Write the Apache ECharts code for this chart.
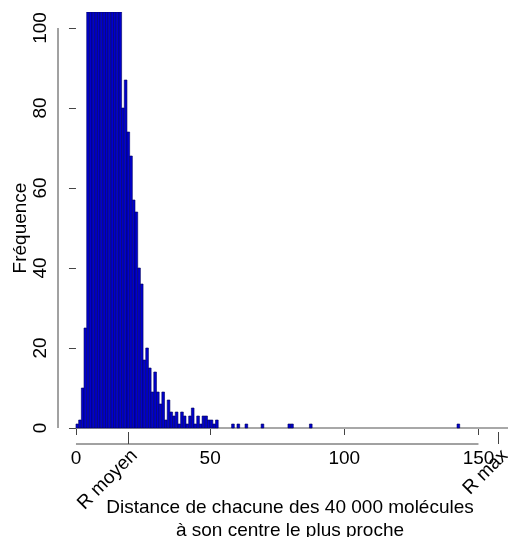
<!DOCTYPE html>
<html>
<head>
<meta charset="utf-8">
<script src="https://cdn.jsdelivr.net/npm/echarts@6/dist/echarts.min.js"></script>
<style>
html,body{margin:0;padding:0;background:#fff;}
#chart{width:508px;height:537px;}
</style>
</head>
<body>
<div id="chart"></div>
<script>
// Histogram of distances (bin width 1): lower edge of each non-empty bin and its frequency
const binWidth = 1;
const binLeft = [0,1,2,3,4,5,6,7,8,9,10,11,12,13,14,15,16,17,18,19,20,21,22,23,24,25,26,27,28,29,30,31,32,33,34,35,36,37,38,39,40,41,42,43,44,45,46,47,48,49,50,51,52,58,60,63,69,79,80,87,142];
const freq    = [1,2,10,25,420,1650,3300,4650,5400,5550,5200,4500,3600,2600,1500,700,234,80,87,74,68,57,54,40,36,17,20,15,9,14,9,6,9,2,7,4,3,4,1,4,3,1,3,5,1,3,1,3,3,2,2,1,2,1,1,1,1,1,1,1,1];

const xTicks = [0, 50, 100, 150];
const yTicks = [0, 20, 40, 60, 80, 100];
const refValues = [19.3, 157.4];
const refLabels = ['R moyen', 'R max'];

const xTitle = 'Distance de chacune des 40 000 molécules\nà son centre le plus proche';
const yTitle = 'Fréquence';

const FONT = '"Liberation Sans", Arial, Helvetica, sans-serif';
const xMin = -6.7, xMax = 161, yMin = -4, yMax = 104;

const chart = echarts.init(document.getElementById('chart'), null, {renderer: 'canvas'});

const histData = binLeft.map((b, i) => [b, freq[i]]);

const option = {
  animation: false,
  backgroundColor: '#ffffff',
  grid: {left: 58, right: 0, top: 12, bottom: 93, containLabel: false, outerBoundsMode: 'none'},
  xAxis: [
    {
      type: 'value', min: xMin, max: xMax,
      axisLine: {show: false},
      splitLine: {show: false},
      axisTick: {show: true, customValues: xTicks, length: 7, lineStyle: {color: '#444', width: 1}},
      axisLabel: {show: true, customValues: xTicks, fontSize: 19, color: '#000', fontFamily: FONT, margin: 5},
      name: xTitle, nameLocation: 'middle', nameGap: 52,
      nameTextStyle: {fontSize: 19, color: '#000', fontFamily: FONT, lineHeight: 23, padding: [0, 0, 0, 14]}
    },
    {
      type: 'value', min: xMin, max: xMax, position: 'bottom', offset: 0, gridIndex: 0,
      axisLine: {show: false},
      splitLine: {show: false},
      axisTick: {show: true, customValues: refValues, inside: true, length: 12, lineStyle: {color: '#444', width: 1}},
      axisLabel: {
        show: true, customValues: refValues, rotate: 45, align: 'right', verticalAlign: 'top', margin: 2,
        fontSize: 19, color: '#000', fontFamily: FONT,
        formatter: function (v) {
          let best = 0;
          for (let i = 1; i < refValues.length; i++) {
            if (Math.abs(refValues[i] - v) < Math.abs(refValues[best] - v)) best = i;
          }
          return refLabels[best];
        }
      }
    }
  ],
  yAxis: {
    type: 'value', min: yMin, max: yMax,
    axisLine: {show: false},
    splitLine: {show: false},
    axisTick: {show: true, customValues: yTicks, length: 7, lineStyle: {color: '#444', width: 1}},
    axisLabel: {show: true, customValues: yTicks, rotate: 90, fontSize: 19, color: '#000', fontFamily: FONT, margin: 8, align: 'center', verticalAlign: 'bottom'},
    name: yTitle, nameLocation: 'middle', nameRotate: 90, nameGap: 28, nameMoveOverlap: false,
    nameTextStyle: {fontSize: 19, color: '#000', fontFamily: FONT}
  },
  series: [
    {
      // gray baseline at frequency 0
      type: 'line', xAxisIndex: 0, data: [[0, 0], [xMax, 0]], symbol: 'none', clip: false, z: 1,
      lineStyle: {color: '#a8a8a8', width: 2}, silent: true
    },
    {
      type: 'custom', xAxisIndex: 0, data: histData, z: 2, clip: true,
      renderItem: function (params, api) {
        const x0 = api.value(0), y = api.value(1);
        const pTop = api.coord([x0, y]);
        const pBot = api.coord([x0 + binWidth, 0]);
        const rect = echarts.graphic.clipRectByRect(
          {x: pTop[0], y: pTop[1], width: pBot[0] - pTop[0], height: pBot[1] - pTop[1]},
          {x: params.coordSys.x, y: params.coordSys.y, width: params.coordSys.width, height: params.coordSys.height}
        );
        if (!rect) return null;
        return {type: 'rect', shape: rect, style: {fill: '#0000cd', stroke: '#00005a', lineWidth: 0.6}};
      }
    },
    {
      // x axis line from first to last tick
      type: 'line', xAxisIndex: 0, data: [[xTicks[0], yMin], [xTicks[xTicks.length - 1], yMin]],
      symbol: 'none', clip: false, z: 3, lineStyle: {color: '#444', width: 1}, silent: true
    },
    {
      // y axis line from first to last tick
      type: 'line', xAxisIndex: 0, data: [[xMin, yTicks[0]], [xMin, yTicks[yTicks.length - 1]]],
      symbol: 'none', clip: false, z: 3, lineStyle: {color: '#444', width: 1}, silent: true
    }
  ]
};
chart.setOption(option);
</script>
</body>
</html>
